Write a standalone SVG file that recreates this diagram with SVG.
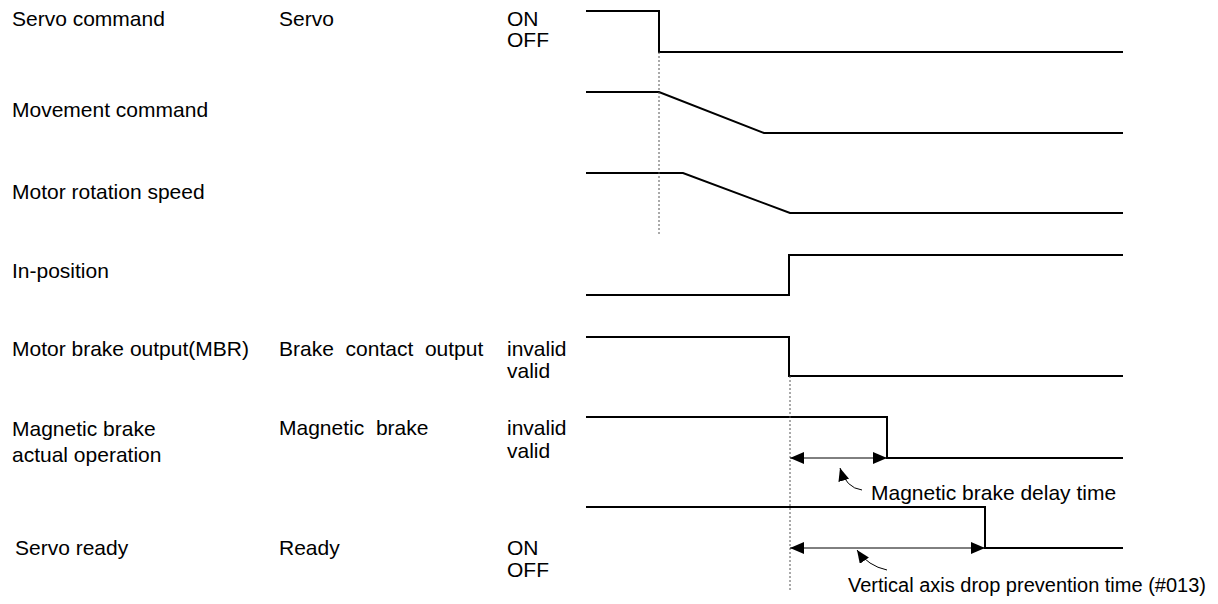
<svg xmlns="http://www.w3.org/2000/svg" width="1218" height="604" viewBox="0 0 1218 604">
<style>
text{font-family:"Liberation Sans",Arial,sans-serif;font-size:21px;fill:#000;white-space:pre}
.sig{fill:none;stroke:#000;stroke-width:2}
.dash{fill:none;stroke:#555;stroke-width:1;stroke-dasharray:2 2}
.dim{fill:none;stroke:#000;stroke-width:1;marker-start:url(#ah);marker-end:url(#ah)}
.lead{fill:none;stroke:#000;stroke-width:1;marker-end:url(#lh)}
</style>
<defs>
<marker id="ah" markerUnits="userSpaceOnUse" markerWidth="14" markerHeight="12" refX="14" refY="6" orient="auto-start-reverse"><path d="M0,0 L14,6 L0,12 z" fill="#000"/></marker>
<marker id="lh" markerUnits="userSpaceOnUse" markerWidth="13" markerHeight="11" refX="13" refY="5.5" orient="auto"><path d="M0,0 L13,5.5 L0,11 z" fill="#000"/></marker>
</defs>
<rect width="1218" height="604" fill="#fff"/>
<g id="row-servo-command">
<text x="12" y="26">Servo command</text>
<text x="279" y="26">Servo</text>
<text x="507" y="26">ON</text>
<text x="507" y="47">OFF</text>
<path class="sig" d="M586,11 H659 V52 H1123"/>
</g>
<g id="row-movement-command">
<text x="12" y="117">Movement command</text>
<path class="sig" d="M586,92 H659 L764,133 H1123"/>
</g>
<g id="row-motor-rotation-speed">
<text x="12" y="199">Motor rotation speed</text>
<path class="sig" d="M586,173 H683 L790,213 H1123"/>
</g>
<g id="row-in-position">
<text x="12" y="278">In-position</text>
<path class="sig" d="M586,295 H789 V255 H1123"/>
</g>
<g id="row-motor-brake-output">
<text x="12" y="356">Motor brake output(MBR)</text>
<text x="279" y="356">Brake  contact  output</text>
<text x="507" y="356">invalid</text>
<text x="507" y="378">valid</text>
<path class="sig" d="M586,337 H789 V376 H1123"/>
</g>
<g id="row-magnetic-brake">
<text x="12" y="436">Magnetic brake</text>
<text x="12" y="462">actual operation</text>
<text x="279" y="435">Magnetic  brake</text>
<text x="507" y="435">invalid</text>
<text x="507" y="458">valid</text>
<path class="sig" d="M586,417 H887 V458 H1123"/>
</g>
<g id="row-servo-ready">
<text x="15" y="555">Servo ready</text>
<text x="279" y="555">Ready</text>
<text x="507" y="555">ON</text>
<text x="507" y="577">OFF</text>
<path class="sig" d="M586,507 H985 V548 H1123"/>
</g>
<g id="connectors">
<path class="dash" d="M659,52 V236"/>
<path class="dash" d="M790,376 V590"/>
<path class="dim" d="M790,458 H887"/>
<path class="dim" d="M790,548 H985"/>
<path class="lead" d="M862,490 Q846,488 840,468"/>
<path class="lead" d="M887,570 Q868,566 857,550"/>
</g>
<g id="annotations">
<text x="871" y="500">Magnetic brake delay time</text>
<text x="848" y="592" style="font-size:20px">Vertical axis drop prevention time (#013)</text>
</g>
</svg>
